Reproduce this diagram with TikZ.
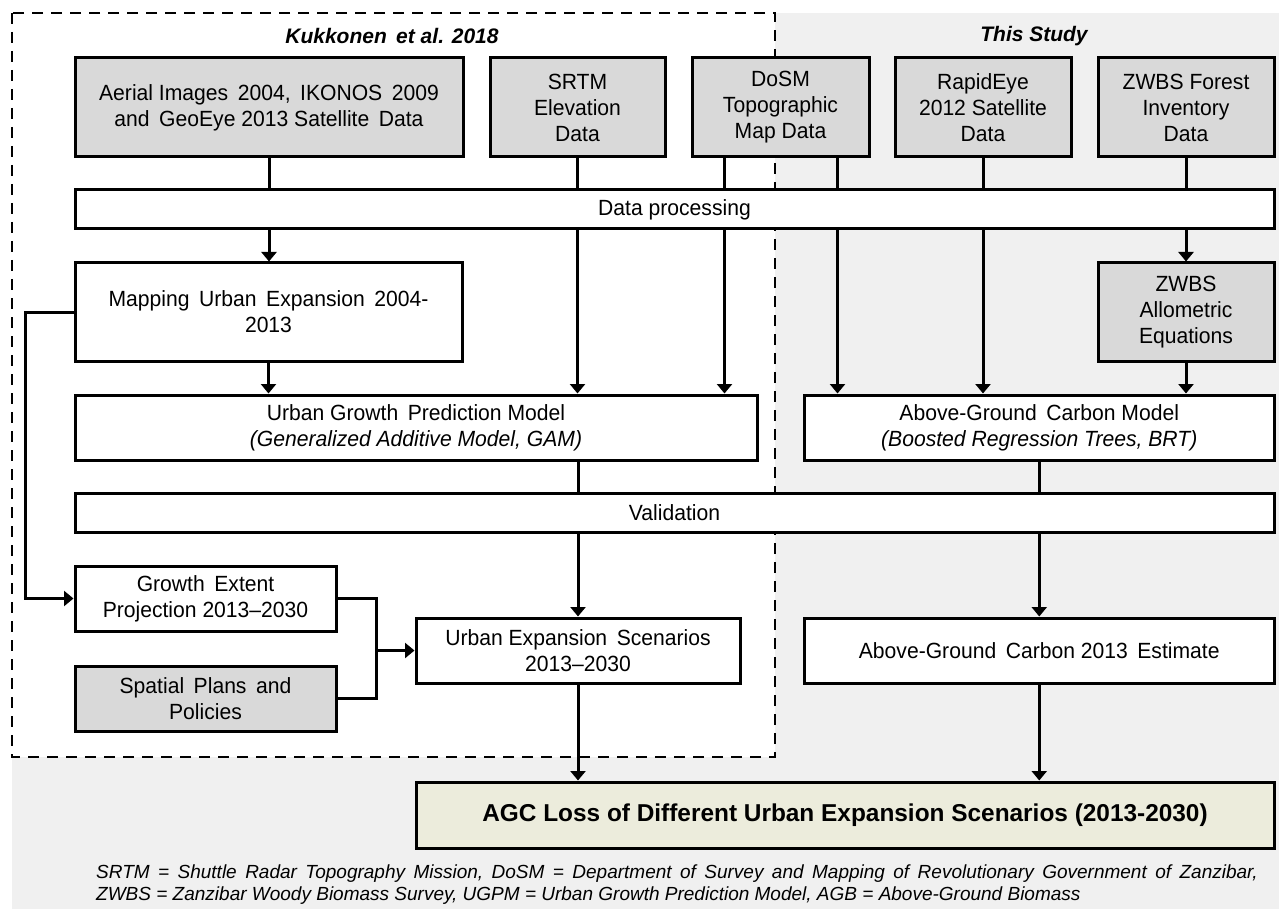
\documentclass[tikz,border=0pt]{standalone}
\usepackage{fontspec}
\setmainfont{Liberation Sans}
\newfontfamily\narrowfont[FakeStretch=0.96]{Liberation Sans}
\usetikzlibrary{arrows.meta,calc}
\definecolor{bgc}{HTML}{F0F0F0}
\definecolor{boxgray}{HTML}{D9D9D9}
\definecolor{finc}{HTML}{ECECDC}
\tikzset{
  bx/.style={draw=black, line width=3pt, fill=white, align=center, inner sep=2pt,
    font=\narrowfont\fontsize{22}{26}\selectfont},
  gbx/.style={bx, fill=boxgray},
  ln/.style={line width=3pt},
  arr/.style={line width=3pt, -{Triangle[length=9.5pt,width=15pt]}},
  ttl/.style={font=\fontsize{21}{25}\selectfont\bfseries\itshape},
}
\begin{document}
\begin{tikzpicture}[x=1pt,y=-1pt]
\useasboundingbox (0,0) rectangle (1279,909);
\fill[bgc] (12,13) rectangle (1279,909);
\draw[fill=white, line width=2.4pt, dash pattern=on 11pt off 8pt] (12,13) rectangle (775,757);

\node[ttl] (kuk) at (392,36) {Kukkonen\, et al. 2018};
\node[ttl] (this) at (1034,36) {This Study};

% top row
\node[gbx, minimum width=388pt, minimum height=99pt] (aer) at (269,107.5) {Aerial Images\, 2004,\, IKONOS\, 2009\\and\, GeoEye 2013 Satellite\, Data};
\node[gbx, minimum width=175pt, minimum height=99pt] (srtm) at (577.5,107.5) {SRTM\\Elevation\\Data};
\node[gbx, minimum width=177pt, minimum height=99pt] (dosm) at (780.5,107.5) {DoSM\\Topographic\\Map Data};
\node[gbx, minimum width=176pt, minimum height=99pt] (rapid) at (983,107.5) {RapidEye\\2012 Satellite\\Data};
\node[gbx, minimum width=176pt, minimum height=99pt] (zwbs) at (1186,107.5) {ZWBS Forest\\Inventory\\Data};

\node[bx, minimum width=1199pt, minimum height=39pt] (dp) at (674.5,209.5) {Data processing};

\node[bx, minimum width=387pt, minimum height=98pt] (map) at (268.5,312) {Mapping\, Urban\, Expansion\, 2004-\\2013};
\node[gbx, minimum width=176pt, minimum height=98pt] (allo) at (1186,312) {ZWBS\\Allometric\\Equations};

\node[bx, minimum width=682pt, minimum height=65pt] (ugpm) at (416,427.5) {Urban Growth\, Prediction Model\\\textit{(Generalized Additive Model, GAM)}};
\node[bx, minimum width=469.5pt, minimum height=65pt] (agcm) at (1039.25,427.5) {Above-Ground\, Carbon Model\\\textit{(Boosted Regression Trees, BRT)}};

\node[bx, minimum width=1199pt, minimum height=39pt] (val) at (674.5,512.5) {Validation};

\node[bx, minimum width=261pt, minimum height=65pt] (grow) at (205.5,598.5) {Growth\, Extent\\Projection 2013–2030};
\node[gbx, minimum width=261pt, minimum height=65pt] (spat) at (205.5,698.5) {Spatial\, Plans\, and\\Policies};
\node[bx, minimum width=324pt, minimum height=65pt] (ues) at (578,650.5) {Urban Expansion\, Scenarios\\2013–2030};
\node[bx, minimum width=469.5pt, minimum height=65pt] (agce) at (1039.25,650.5) {Above-Ground\, Carbon 2013\, Estimate};

\node[bx, fill=finc, minimum width=858pt, minimum height=66pt, font=\fontsize{24.4}{28}\selectfont\bfseries] (fin) at (845,815) {AGC Loss of Different Urban Expansion Scenarios (2013-2030)};

\node[anchor=north west, align=left, inner sep=0pt, font=\fontsize{19}{22}\selectfont\itshape] (fn) at (96,865)
{SRTM\, =\, Shuttle\, Radar\, Topography\, Mission,\, DoSM\, =\, Department\, of\, Survey\, and\, Mapping\, of\, Revolutionary\, Government\, of\, Zanzibar,\\
ZWBS = Zanzibar Woody Biomass Survey, UGPM = Urban Growth Prediction Model, AGB = Above-Ground Biomass};

% connectors top -> data processing
\draw[ln] (aer.south) -- (aer.south |- dp.north);
\draw[ln] (srtm.south) -- (srtm.south |- dp.north);
\draw[ln] ([xshift=-56pt]dosm.south) -- ([xshift=-56pt]dosm.south |- dp.north);
\draw[ln] ([xshift=57pt]dosm.south) -- ([xshift=57pt]dosm.south |- dp.north);
\draw[ln] (rapid.south) -- (rapid.south |- dp.north);
\draw[ln] (zwbs.south) -- (zwbs.south |- dp.north);

% data processing -> next
\draw[arr] (aer.south |- dp.south) -- (map.north -| aer.south);
\draw[arr] (srtm.south |- dp.south) -- (srtm.south |- ugpm.north);
\draw[arr] ([xshift=-56pt]dosm.south |- dp.south) -- ([xshift=-56pt]dosm.south |- ugpm.north);
\draw[arr] ([xshift=57pt]dosm.south |- dp.south) -- ([xshift=57pt]dosm.south |- agcm.north);
\draw[arr] (rapid.south |- dp.south) -- (rapid.south |- agcm.north);
\draw[arr] (zwbs.south |- dp.south) -- (allo.north);

\draw[arr] (map.south) -- (map.south |- ugpm.north);
\draw[arr] (allo.south) -- (allo.south |- agcm.north);

% to validation
\draw[ln] (ues.north |- ugpm.south) -- (ues.north |- val.north);
\draw[ln] (agce.north |- agcm.south) -- (agce.north |- val.north);

% from validation
\draw[arr] (ues.north |- val.south) -- (ues.north);
\draw[arr] (agce.north |- val.south) -- (agce.north);

% mapping -> growth extent
\draw[arr] (map.west) -- ++(-48,0) |- (grow.west);

% growth + spatial -> ues
\coordinate (j) at ([xshift=-38.5pt]ues.west);
\draw[ln] (grow.east) -| (j |- spat.east) -- (spat.east);
\draw[arr] (j) -- (ues.west);

% to final
\draw[arr] (ues.south) -- (ues.south |- fin.north);
\draw[arr] (agce.south) -- (agce.south |- fin.north);
\end{tikzpicture}
\end{document}
